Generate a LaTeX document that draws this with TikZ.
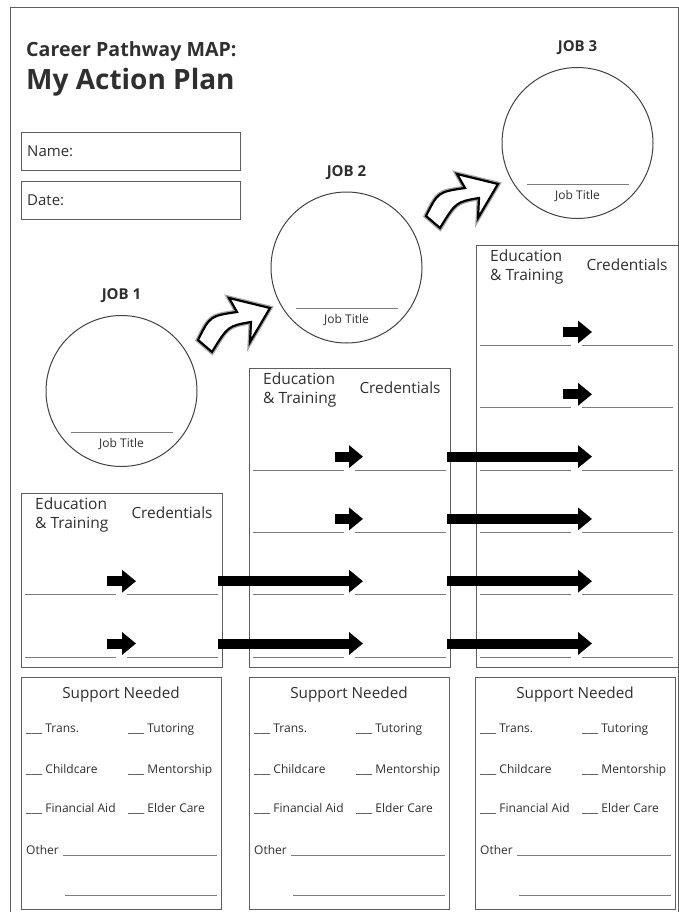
\documentclass[tikz,border=0pt]{standalone}
\usepackage{fontspec}
\setmainfont{Open Sans}
\usetikzlibrary{arrows.meta,positioning,calc}

\definecolor{inkgray}{HTML}{2F2F2F}
\definecolor{framegray}{HTML}{5E5E5E}
\definecolor{rulegray}{HTML}{7C7C7C}

\begin{document}
\begin{tikzpicture}[
    x=1pt, y=-1pt,
    text=inkgray,
    frame/.style={
        draw=framegray,
        line width=0.9pt,
        inner sep=0pt,
        outer sep=0pt,
        anchor=north west
    },
    jobcircle/.style={
        draw=framegray!70!black,
        line width=1pt,
        circle,
        minimum size=151pt,
        inner sep=0pt
    },
    joblabel/.style={font=\fontsize{15}{17}\selectfont\bfseries},
    titlelabel/.style={font=\fontsize{12}{14}\selectfont},
    fieldlabel/.style={anchor=west, inner sep=0pt, font=\fontsize{15}{17}\selectfont},
    headlabel/.style={anchor=north west, inner sep=0pt, align=left, font=\fontsize{15.5}{19}\selectfont},
    credlabel/.style={inner sep=0pt, font=\fontsize{15.4}{17}\selectfont},
    supportlabel/.style={anchor=base, inner sep=0pt, font=\fontsize{15.3}{17}\selectfont},
    itemlabel/.style={anchor=base west, inner sep=0pt, font=\fontsize{12}{14}\selectfont},
    writeline/.style={draw=rulegray, line width=0.8pt},
    steparrow/.style={line width=10pt, -{Triangle[length=14pt, width=22pt]}},
    bendarrow/.pic={
        \draw[fill=white, line width=2.2pt, line join=miter,
              preaction={draw=black!35, line width=4.8pt}]
            (0,0) .. controls (12,-24) .. (39,-28) -- (31,-42) -- (72,-32)
            -- (52,2) -- (53,-18) .. controls (30,-14) .. (14,12) -- cycle;
    }
]
\useasboundingbox (0,0) rectangle (679,912);

% Page frame
\draw[framegray, line width=0.9pt] (10,913) -- (10,7) -- (678,7) -- (678,913);

% Heading
\node[anchor=base west, inner sep=0pt, font=\fontsize{19.6}{21}\selectfont\bfseries] (maptitle) at (26,57) {Career Pathway MAP:};
\node[anchor=base west, inner sep=0pt, font=\fontsize{28}{30}\selectfont\bfseries] (plantitle) at (26,90) {My Action Plan};

% Name and date
\node[frame, minimum width=219pt, minimum height=38pt] (namebox) at (21,132) {};
\node[frame, minimum width=219pt, minimum height=38pt] (datebox) at (21,181) {};
\node[fieldlabel] at ([shift={(6,0)}]namebox.west) {Name:};
\node[fieldlabel] at ([shift={(6,0)}]datebox.west) {Date:};

% Jobs
\node[jobcircle] (job1) at (121.5,391) {};
\node[jobcircle] (job2) at (346.5,267.5) {};
\node[jobcircle] (job3) at (577.5,143) {};
\foreach \j in {1,2,3} {
    \node[joblabel] at ([shift={(0,-95)}]job\j.center) {JOB \j};
    \draw[writeline] ([shift={(-51,41)}]job\j.center) -- ([shift={(51,41)}]job\j.center);
    \node[titlelabel] at ([shift={(0,53)}]job\j.center) {Job Title};
}

% Bent arrows between jobs
\pic at (198,340) {bendarrow};
\pic at (426,216) {bendarrow};

% Education & Training boxes
\node[frame, minimum width=201pt, minimum height=174pt] (edu1) at (21,493) {};
\node[frame, minimum width=201pt, minimum height=299pt] (edu2) at (249,368) {};
\node[frame, minimum width=202pt, minimum height=422pt] (edu3) at (476,245) {};
\foreach \b in {1,2,3} {
    \node[headlabel] at ([shift={(14,5)}]edu\b.north west) {Education\\\& Training};
    \node[credlabel] at ([shift={(151,20)}]edu\b.north west) {Credentials};
}

% Writing lines
\foreach \b/\first in {1/5, 2/3, 3/1} {
    \foreach \r in {\first,...,6} {
        \draw[writeline] ([shift={(4,{345.5+62.3*(\r-1)})}]edu\b.north west |- 0,0) -- ++(91,0);
        \draw[writeline] ([shift={(106,{345.5+62.3*(\r-1)})}]edu\b.north west |- 0,0) -- ++(91,0);
    }
}

% Small arrows inside boxes
\draw[steparrow] (107,581.2) -- (136,581.2);
\draw[steparrow] (107,643.5) -- (136,643.5);
\draw[steparrow] (335,456.6) -- (363,456.6);
\draw[steparrow] (335,518.9) -- (363,518.9);
\draw[steparrow] (563,332) -- (592,332);
\draw[steparrow] (563,394.3) -- (592,394.3);

% Long arrows across boxes
\draw[steparrow] (218,581.2) -- (363,581.2);
\draw[steparrow] (218,643.5) -- (363,643.5);
\draw[steparrow] (447,456.6) -- (592,456.6);
\draw[steparrow] (447,518.9) -- (592,518.9);
\draw[steparrow] (447,581.2) -- (592,581.2);
\draw[steparrow] (447,643.5) -- (592,643.5);

% Support boxes
\foreach \s/\x in {1/21, 2/249, 3/475} {
    \node[frame, minimum width=200pt, minimum height=232pt] (support\s) at (\x,677) {};
    \node[supportlabel] at ([shift={(100,21)}]support\s.north west) {Support Needed};
    \node[itemlabel] at ([shift={(5,55)}]support\s.north west) {\_\_\_ Trans.};
    \node[itemlabel] at ([shift={(107,55)}]support\s.north west) {\_\_\_ Tutoring};
    \node[itemlabel] at ([shift={(5,96)}]support\s.north west) {\_\_\_ Childcare};
    \node[itemlabel] at ([shift={(107,96)}]support\s.north west) {\_\_\_ Mentorship};
    \node[itemlabel] at ([shift={(5,135)}]support\s.north west) {\_\_\_ Financial Aid};
    \node[itemlabel] at ([shift={(107,135)}]support\s.north west) {\_\_\_ Elder Care};
    \node[itemlabel] at ([shift={(5,177)}]support\s.north west) {Other};
    \draw[writeline] ([shift={(42,178)}]support\s.north west) -- ([shift={(196,178)}]support\s.north west);
    \draw[writeline] ([shift={(44,218)}]support\s.north west) -- ([shift={(196,218)}]support\s.north west);
}

\end{tikzpicture}
\end{document}
